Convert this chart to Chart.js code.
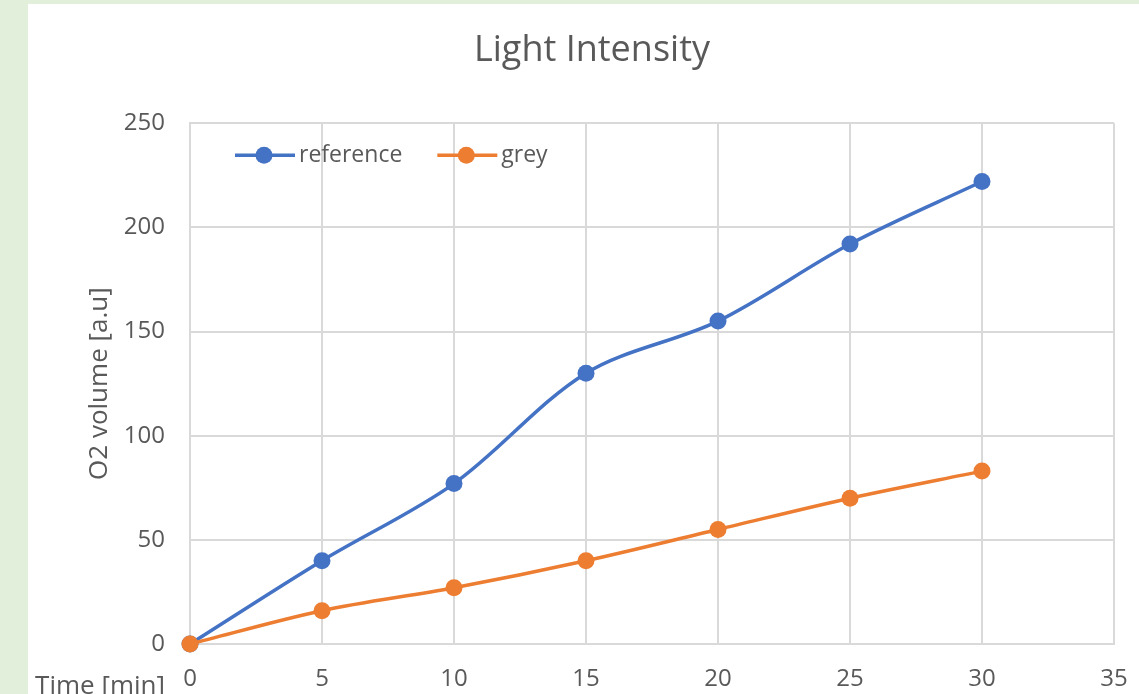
<!DOCTYPE html>
<html>
<head>
<meta charset="utf-8">
<script src="https://cdn.jsdelivr.net/npm/chart.js@4.4.1/dist/chart.umd.min.js"></script>
<style>
  html, body { margin: 0; padding: 0; background: #e2efda; width: 1139px; height: 694px; overflow: hidden; }
  #frame { position: absolute; left: 28px; top: 4px; width: 1111px; height: 690px; background: #ffffff; overflow: hidden; }
  #frame canvas { position: absolute; left: 0; top: 0; }
</style>
</head>
<body>
<div id="frame"><canvas id="chart" width="1128" height="690"></canvas></div>
<script>
// Sampling times (minutes) and measured O2 volume for each condition
const timeMin = [0, 5, 10, 15, 20, 25, 30];
const referenceO2 = [0, 40, 77, 130, 155, 192, 222];
const greyO2 = [0, 16, 27, 40, 55, 70, 83];

const seriesNames = ['reference', 'grey'];
const seriesColors = ['#4472c4', '#ed7d31'];

const chartTitle = 'Light Intensity';
const xAxisTitle = 'Time [min]';
const yAxisTitle = 'O2 volume [a.u]';

const xTickValues = [0, 5, 10, 15, 20, 25, 30, 35];
const yTickValues = [0, 50, 100, 150, 200, 250];

const FONT = "'Open Sans', 'Noto Sans', sans-serif";
const TEXT = '#595959';
const GRID = '#d9d9d9';

function toPoints(xs, ys) {
  return xs.map((x, i) => ({ x: x, y: ys[i] }));
}

// Legend drawn inside the plot area, top-left
const insideLegend = {
  id: 'insideLegend',
  afterDraw(chart) {
    const ctx = chart.ctx;
    const area = chart.chartArea;
    const y = area.top + 32;
    let x = area.left + 45;
    ctx.save();
    ctx.font = '23px ' + FONT;
    ctx.textBaseline = 'middle';
    ctx.textAlign = 'left';
    chart.data.datasets.forEach((ds) => {
      ctx.strokeStyle = ds.borderColor;
      ctx.lineWidth = 3.5;
      ctx.beginPath();
      ctx.moveTo(x, y);
      ctx.lineTo(x + 60, y);
      ctx.stroke();
      ctx.fillStyle = ds.borderColor;
      ctx.beginPath();
      ctx.arc(x + 29, y, 8.5, 0, Math.PI * 2);
      ctx.fill();
      ctx.fillStyle = TEXT;
      ctx.fillText(ds.label, x + 64, y);
      x += 64 + ctx.measureText(ds.label).width + 35;
    });
    ctx.restore();
  }
};

// X-axis title placed to the left of the first tick label
const sideXTitle = {
  id: 'sideXTitle',
  afterDraw(chart) {
    const ctx = chart.ctx;
    const xs = chart.scales.x;
    ctx.save();
    ctx.font = '26px ' + FONT;
    ctx.fillStyle = TEXT;
    ctx.textAlign = 'right';
    ctx.textBaseline = 'middle';
    ctx.fillText(xAxisTitle, chart.chartArea.left - 25, xs.top + 43);
    ctx.restore();
  }
};

new Chart(document.getElementById('chart'), {
  type: 'scatter',
  data: {
    datasets: [
      {
        label: seriesNames[0],
        data: toPoints(timeMin, referenceO2),
        order: 1
      },
      {
        label: seriesNames[1],
        data: toPoints(timeMin, greyO2),
        order: 0
      }
    ].map((ds, i) => Object.assign(ds, {
      showLine: true,
      borderColor: seriesColors[i],
      backgroundColor: seriesColors[i],
      pointBackgroundColor: seriesColors[i],
      pointBorderColor: seriesColors[i],
      borderWidth: 3.5,
      pointRadius: 8.5,
      pointBorderWidth: 0,
      pointHoverRadius: 8.5,
      tension: 0.33,
      clip: false
    }))
  },
  options: {
    responsive: false,
    animation: false,
    devicePixelRatio: 1,
    layout: { padding: { left: 42, right: 42, top: 0, bottom: 0 } },
    plugins: {
      legend: { display: false },
      tooltip: { enabled: false },
      title: {
        display: true,
        text: chartTitle,
        color: TEXT,
        font: { family: FONT, size: 36, weight: 'normal' },
        padding: { top: 25, bottom: 51 }
      }
    },
    scales: {
      x: {
        type: 'linear',
        min: 0,
        max: 35,
        afterBuildTicks(scale) { scale.ticks = xTickValues.map(v => ({ value: v })); },
        afterFit(scale) { scale.height = 50; },
        border: { color: GRID, width: 2 },
        grid: { color: GRID, lineWidth: 2, drawTicks: false },
        ticks: {
          color: TEXT,
          padding: 21,
          maxRotation: 0,
          font: { family: FONT, size: 24 }
        }
      },
      y: {
        type: 'linear',
        min: 0,
        max: 250,
        afterBuildTicks(scale) { scale.ticks = yTickValues.map(v => ({ value: v })); },
        afterFit(scale) { scale.width = 120; },
        border: { color: GRID, width: 2 },
        grid: { color: GRID, lineWidth: 2, drawTicks: false },
        title: {
          display: true,
          text: yAxisTitle,
          color: TEXT,
          font: { family: FONT, size: 26 },
          padding: { top: 14, bottom: 0 }
        },
        ticks: {
          color: TEXT,
          padding: 25,
          font: { family: FONT, size: 24 }
        }
      }
    }
  },
  plugins: [insideLegend, sideXTitle]
});
</script>
</body>
</html>
